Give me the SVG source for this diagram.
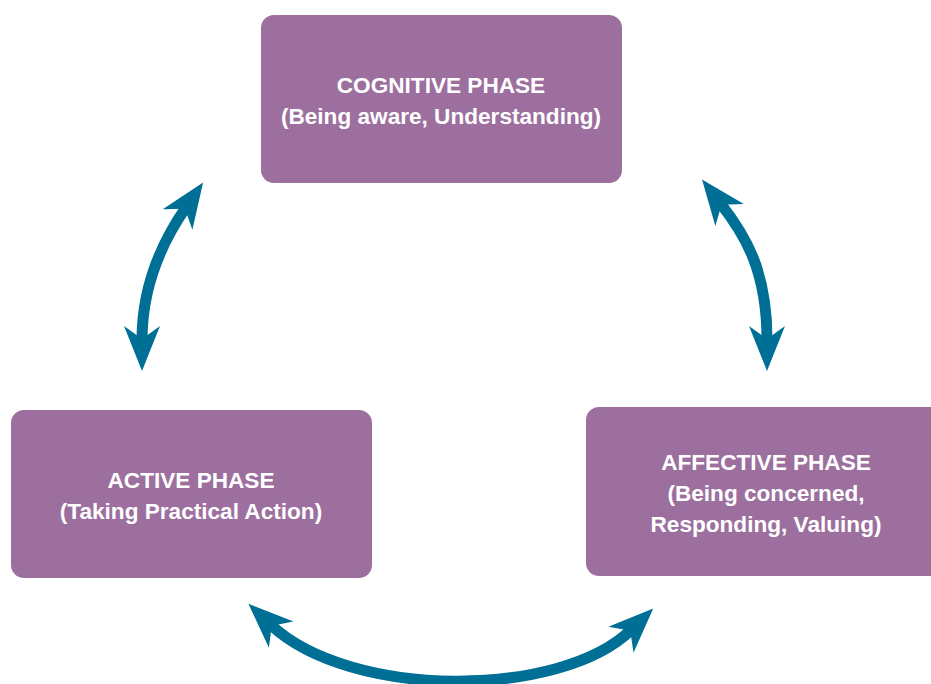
<svg xmlns="http://www.w3.org/2000/svg" width="931" height="684" viewBox="0 0 931 684">
<style>
.box{fill:#9D6F9F}
.t{font-family:"Liberation Sans",Arial,sans-serif;font-weight:bold;font-size:22.6px;fill:#fff;text-anchor:middle}
.arr{fill:none;stroke:#006F96;stroke-width:11}
</style>
<defs>
<marker id="head" markerUnits="userSpaceOnUse" markerWidth="48" markerHeight="38" refX="14" refY="18" orient="auto-start-reverse" overflow="visible">
<path d="M0,0 L45,18 L0,36 L13,18 Z" fill="#006F96"/>
</marker>
</defs>
<rect width="931" height="684" fill="#fff"/>
<g id="connectors">
<path class="arr" d="M142,340 C142,290 160,245 185.5,208" marker-start="url(#head)" marker-end="url(#head)"/>
<path class="arr" d="M721,204 C745,235 767,270 767,340" marker-start="url(#head)" marker-end="url(#head)"/>
<path class="arr" d="M271,625 C350,699 560,699 631,630" marker-start="url(#head)" marker-end="url(#head)"/>
</g>
<g id="cognitive">
<rect class="box" x="261" y="15" width="361" height="168" rx="13"/>
<text class="t" x="441" y="93">COGNITIVE PHASE</text>
<text class="t" x="441" y="124">(Being aware, Understanding)</text>
</g>
<g id="affective">
<rect class="box" x="586" y="407" width="360" height="169" rx="13"/>
<text class="t" x="766" y="470">AFFECTIVE PHASE</text>
<text class="t" x="766" y="501">(Being concerned,</text>
<text class="t" x="766" y="532">Responding, Valuing)</text>
</g>
<g id="active">
<rect class="box" x="11" y="410" width="361" height="168" rx="13"/>
<text class="t" x="191" y="488">ACTIVE PHASE</text>
<text class="t" x="191" y="519">(Taking Practical Action)</text>
</g>
</svg>
